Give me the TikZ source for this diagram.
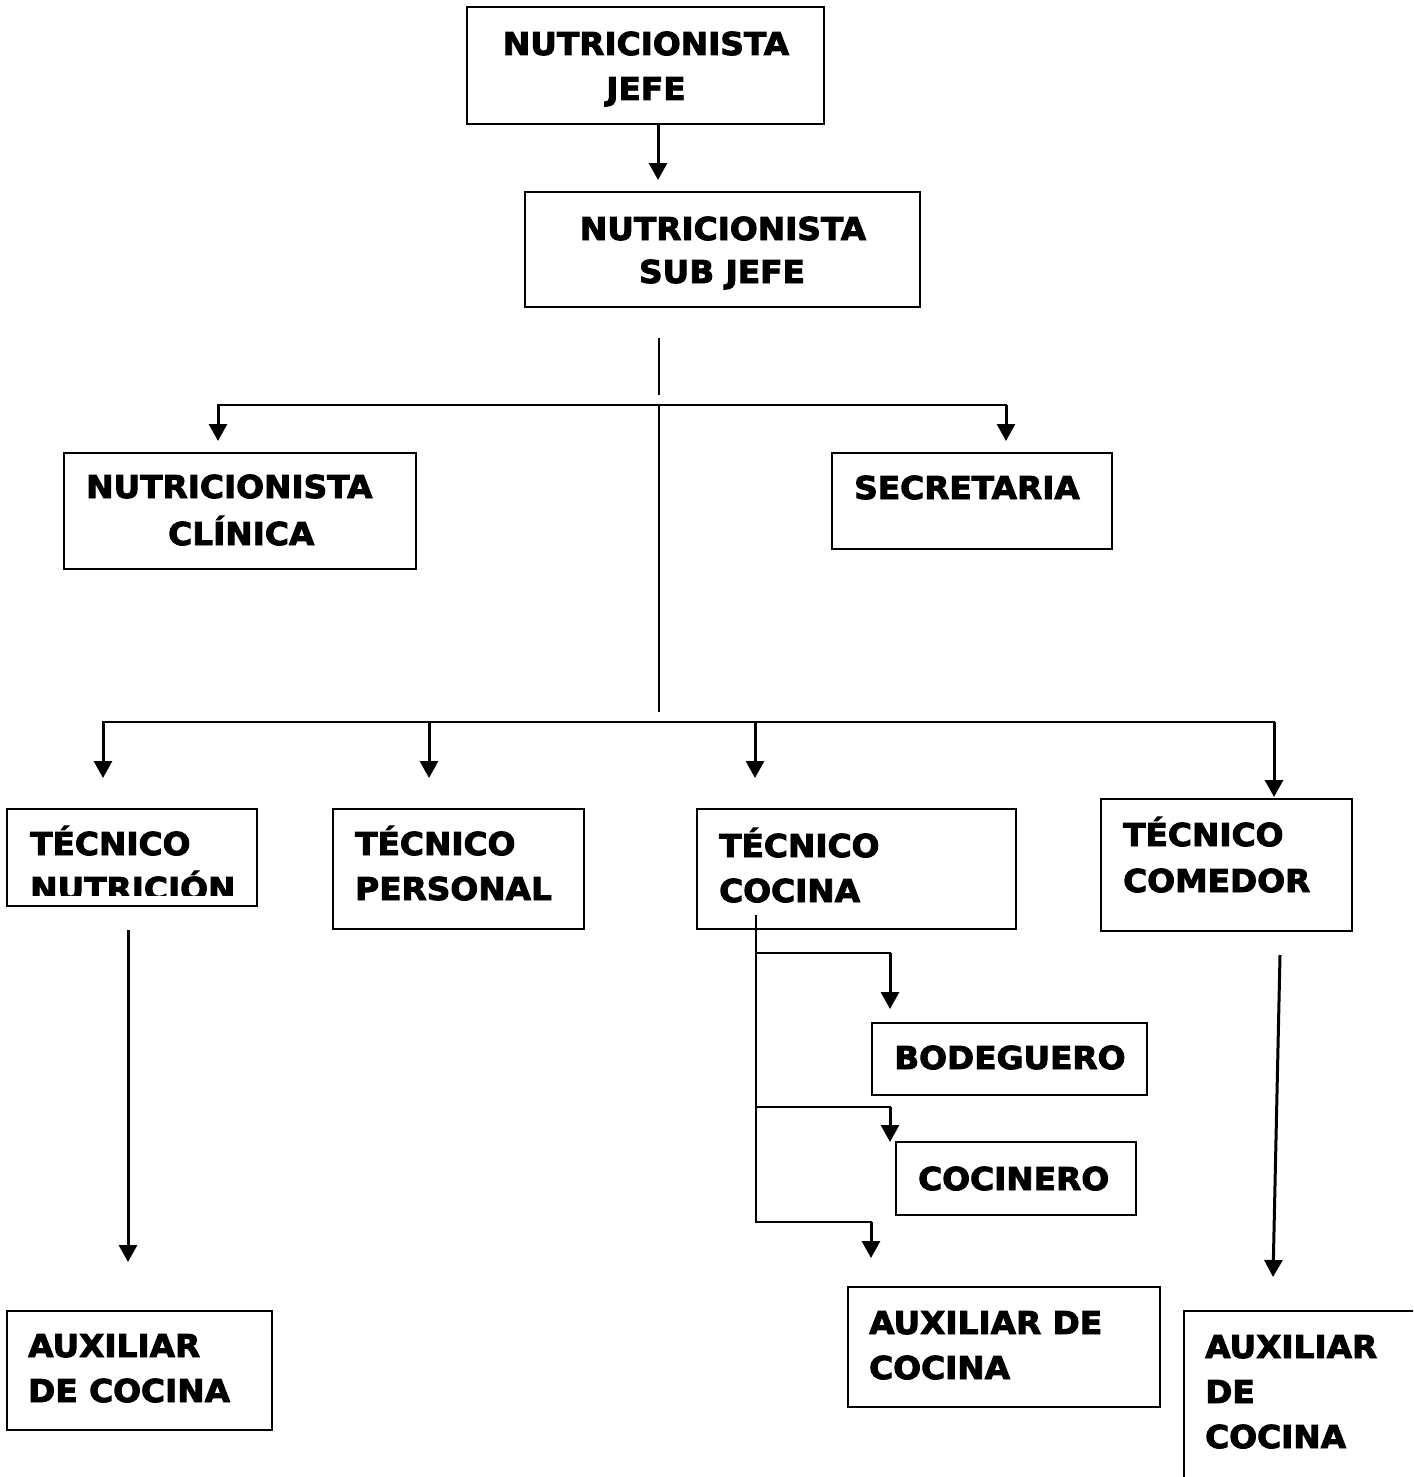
\documentclass[tikz,border=0pt]{standalone}
\usepackage{fontspec}
\setmainfont{DejaVu Sans}[BoldFeatures={FakeBold=3,FakeStretch=1.04}]
\usetikzlibrary{arrows.meta}
\begin{document}
\begin{tikzpicture}[x=1pt,y=-1pt,
  boxst/.style={draw=black,line width=2pt,rectangle},
  txt/.style={inner sep=0pt,anchor=base west,font=\fontsize{31.5pt}{45pt}\selectfont\bfseries},
  txtc/.style={txt,anchor=base},
  ln/.style={line width=2.2pt},
  arr/.style={line width=3pt,-{Triangle[width=18pt,length=17pt]}}]
\useasboundingbox[fill=white] (0,0) rectangle (1413,1477);
% boxes
\node[boxst,minimum width=357pt,minimum height=117pt] (jefe) at (645.5,65.5) {};
\node[boxst,minimum width=395pt,minimum height=115pt] (sub) at (722.5,249.5) {};
\node[boxst,minimum width=352pt,minimum height=116pt] (clin) at (240,511) {};
\node[boxst,minimum width=280pt,minimum height=96pt] (secr) at (972,501) {};
\node[boxst,minimum width=250pt,minimum height=97pt] (tnut) at (132,857.5) {};
\node[boxst,minimum width=251pt,minimum height=120pt] (tper) at (458.5,869) {};
\node[boxst,minimum width=319pt,minimum height=120pt] (tcoc) at (856.5,869) {};
\node[boxst,minimum width=251pt,minimum height=132pt] (tcom) at (1226.5,865) {};
\node[boxst,minimum width=275pt,minimum height=72pt] (bode) at (1009.5,1059) {};
\node[boxst,minimum width=240pt,minimum height=73pt] (coci) at (1016,1178.5) {};
\node[boxst,minimum width=312pt,minimum height=120pt] (auxm) at (1004,1347) {};
\node[boxst,minimum width=265pt,minimum height=119pt] (auxl) at (139.5,1370.5) {};
\begin{scope}
\clip (0,0) rectangle (1413,1477);
\node[boxst,minimum width=260pt,minimum height=200pt] (auxr) at (1314,1411) {};
\end{scope}
% texts
\node[txtc] (t1a) at (646,55) {NUTRICIONISTA};
\node[txtc] (t1b) at (646,100) {JEFE};
\node[txtc] (t2a) at (723,240) {NUTRICIONISTA};
\node[txtc] (t2b) at (722,283) {SUB JEFE};
\node[txt] (t3a) at (86,498) {NUTRICIONISTA};
\node[txt] (t3b) at (168,545) {CLÍNICA};
\node[txt] (t4a) at (854,499) {SECRETARIA};
\node[txt] (t5a) at (30,855) {TÉCNICO};
\begin{scope}
\clip (0,809) rectangle (257,895);
\node[txt] (t5b) at (30,900) {NUTRICIÓN};
\end{scope}
\node[txt] (t6a) at (355,855) {TÉCNICO};
\node[txt] (t6b) at (355,900) {PERSONAL};
\node[txt] (t7a) at (719,857) {TÉCNICO};
\node[txt] (t7b) at (719,902) {COCINA};
\node[txt] (t8a) at (1123,846) {TÉCNICO};
\node[txt] (t8b) at (1123,892) {COMEDOR};
\node[txt] (t9a) at (894,1069) {BODEGUERO};
\node[txt] (t10a) at (918,1190) {COCINERO};
\node[txt] (t11a) at (869,1334) {AUXILIAR DE};
\node[txt] (t11b) at (869,1379) {COCINA};
\node[txt] (t12a) at (28,1357) {AUXILIAR};
\node[txt] (t12b) at (28,1402) {DE COCINA};
\node[txt] (t13a) at (1205,1358) {AUXILIAR};
\node[txt] (t13b) at (1205,1403) {DE};
\node[txt] (t13c) at (1205,1448) {COCINA};
% junction coordinates
\coordinate (s1top) at (659,338);
\coordinate (s1end) at (659,395);
\coordinate (h1) at (659,405);
\coordinate (h1l) at (218,405);
\coordinate (h1r) at (1006,405);
\coordinate (v2end) at (659,712);
\coordinate (h2l) at (103,722);
\coordinate (h2r) at (1274,722);
\coordinate (h2b) at (429,722);
\coordinate (h2c) at (755,722);
\coordinate (ktop) at (756,915);
\coordinate (k1) at (756,953);
\coordinate (k2) at (756,1107);
\coordinate (k3) at (756,1222);
% connectors
\draw[arr] (jefe.south -| 658,0) -- ([yshift=11pt]sub.north -| 658,0);
\draw[ln] (s1top) -- (s1end);
\draw[ln,line cap=rect] (h1l) -- (h1r);
\draw[ln] (h1) -- (v2end);
\draw[arr] (h1l) -- ([yshift=11pt]clin.north -| h1l);
\draw[arr] (h1r) -- ([yshift=11pt]secr.north -| h1r);
\draw[ln,line cap=rect] (h2l) -- (h2r);
\draw[arr] (h2l) -- ([yshift=30pt]tnut.north -| h2l);
\draw[arr] (h2b) -- ([yshift=30pt]tper.north -| h2b);
\draw[arr] (h2c) -- ([yshift=30pt]tcoc.north -| h2c);
\draw[arr] (h2r) -- ([yshift=1pt]tcom.north -| h2r);
\draw[arr] ([yshift=-23pt]tnut.south -| 128,0) -- ([yshift=48pt]auxl.north -| 128,0);
\draw[ln] (ktop) -- (k3);
\draw[ln,line cap=rect] (k1) -- (890,953) coordinate (k1c);
\draw[arr] (k1c) -- ([yshift=13pt]bode.north -| k1c);
\draw[ln,line cap=rect] (k2) -- (890,1107) coordinate (k2c);
\draw[arr] (k2c) -- ([yshift=-1pt]coci.north -| k2c);
\draw[ln,line cap=rect] (k3) -- (871,1222) coordinate (k3c);
\draw[arr] (k3c) -- ([yshift=28pt]auxm.north -| k3c);
\draw[arr] ([yshift=-23pt]tcom.south -| 1280,0) -- ([yshift=33pt]auxr.north -| 1273,0);
\end{tikzpicture}
\end{document}
